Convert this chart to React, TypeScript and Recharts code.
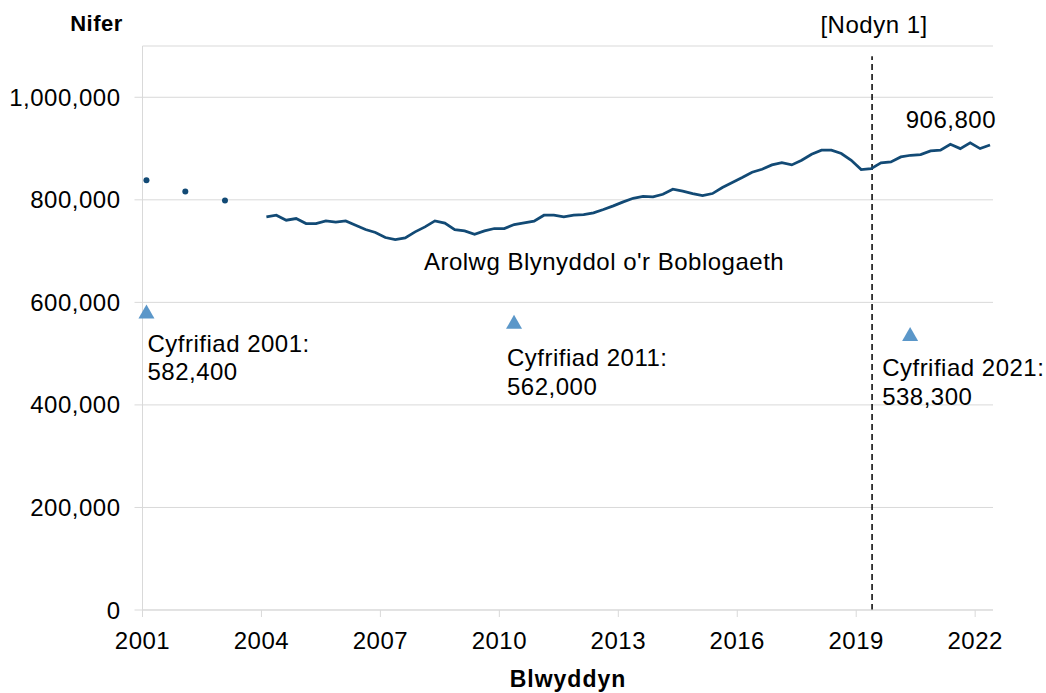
import { ComposedChart, Line, Scatter, XAxis, YAxis, CartesianGrid, ReferenceLine, ReferenceDot } from 'recharts'

const NAVY = '#124a75'
const LIGHT_BLUE = '#5b97c9'
const GRID = '#d9d9d9'
const FONT = "'Liberation Sans', Arial, sans-serif"

// Arolwg Blynyddol o'r Boblogaeth, quarterly rolling estimates from early 2004
const APS_START = 2004.125
const APS_VALUES = [
  766700, 770000, 760200, 763500, 753700, 753700, 758900, 756300, 758900, 750500,
  742000, 736200, 726400, 722500, 725800, 737500, 747200, 758900, 754500, 742000,
  739400, 732900, 739400, 744000, 744000, 751800, 755000, 758300, 770000, 770000,
  766700, 770000, 771300, 774500, 781000, 788200, 796000, 803000, 806500, 805700,
  810900, 820700, 816800, 812200, 808300, 812200, 823900, 833700, 843400, 853800,
  859600, 868100, 872600, 868100, 877200, 888900, 896700, 896700, 890200, 877200,
  859000, 860900, 872000, 874000, 883700, 886900, 888200, 895400, 896700, 908400,
  899900, 911000, 899900, 906800,
]

// earlier annual estimates, drawn as dots
const ANNUAL_YEARS = [2001.1, 2002.08, 2003.08]
const ANNUAL_VALUES = [838200, 816200, 798600]

// census counts
const CENSUS_YEARS = [2001.1, 2010.37, 2020.36]
const CENSUS_VALUES = [582400, 562000, 538300]
const CENSUS_NAMES = ['Cyfrifiad 2001:', 'Cyfrifiad 2011:', 'Cyfrifiad 2021:']

const X_TICKS = [2001, 2004, 2007, 2010, 2013, 2016, 2019, 2022]
const Y_TICKS = [0, 200000, 400000, 600000, 800000, 1000000]
const NOTE_YEAR = 2019.4

// label nudges (px) for the census notes: [dx, dy of first line]
const CENSUS_LABEL_OFFSET = [
  [1, 40.5],
  [-7, 44.3],
  [-28, 42.2],
]

const fmt = (v: number) => v.toLocaleString('en-GB')

const apsData = APS_VALUES.map((v, i) => ({ x: APS_START + i * 0.25, y: v }))
const annualData = ANNUAL_YEARS.map((x, i) => ({ x, y: ANNUAL_VALUES[i] }))
const censusData = CENSUS_YEARS.map((x, i) => ({ x, y: CENSUS_VALUES[i], name: CENSUS_NAMES[i] }))

const XTick = ({ x, y, payload }: any) => (
  <text x={x} y={y + 30} textAnchor="middle" fontSize={24} fill="#000">
    {payload.value}
  </text>
)

const AnnualDot = (p: any) => <circle cx={p.cx} cy={p.cy} r={3} fill={NAVY} />

const CensusMark = (p: any) => {
  const idx = CENSUS_NAMES.indexOf(p.payload?.name)
  const [dx, dy] = CENSUS_LABEL_OFFSET[idx] || [0, 40]
  const { cx, cy } = p
  return (
    <g>
      <polygon points={`${cx},${cy - 7} ${cx - 8},${cy + 7} ${cx + 8},${cy + 7}`} fill={LIGHT_BLUE} />
      <text x={cx + dx} y={cy + dy} fontSize={24} fill="#000">
        {p.payload?.name}
      </text>
      <text x={cx + dx} y={cy + dy + 28.5} fontSize={24} fill="#000">
        {fmt(p.payload?.y)}
      </text>
    </g>
  )
}

const LastValueLabel = (p: any) => {
  if (p.index !== APS_VALUES.length - 1) return <g key={`d-${p.index}`} />
  return (
    <text key="last" x={p.cx + 6} y={p.cy - 17} textAnchor="end" fontSize={24} fill="#000">
      {fmt(APS_VALUES[APS_VALUES.length - 1])}
    </text>
  )
}

export default function App() {
  return (
    <div
      style={{
        position: 'absolute',
        left: 0,
        top: 0,
        width: 1046,
        height: 693,
        background: '#fff',
        fontFamily: FONT,
        letterSpacing: '0.5px',
      }}
    >
      <ComposedChart width={1046} height={693} margin={{ top: 46, right: 53, bottom: 0, left: 0 }}>
        <CartesianGrid vertical={false} stroke={GRID} />
        <XAxis
          type="number"
          dataKey="x"
          domain={[2001, 2022.45]}
          ticks={X_TICKS}
          height={83}
          tickSize={7}
          tick={<XTick />}
          axisLine={{ stroke: GRID }}
          tickLine={{ stroke: GRID }}
          label={() => (
            <text x={568} y={687} textAnchor="middle" fontSize={23} fontWeight="bold" letterSpacing="1px" fill="#000">
              Blwyddyn
            </text>
          )}
        />
        <YAxis
          type="number"
          dataKey="y"
          domain={[0, 1100000]}
          ticks={Y_TICKS}
          width={142.5}
          tickSize={8}
          tickMargin={14}
          tickFormatter={fmt}
          tick={{ fill: '#000', fontSize: 24 }}
          axisLine={{ stroke: GRID }}
          tickLine={{ stroke: GRID }}
          label={() => (
            <text x={96.5} y={31} textAnchor="middle" fontSize={22} fontWeight="bold" fill="#000">
              Nifer
            </text>
          )}
        />
        <ReferenceLine
          segment={[
            { x: NOTE_YEAR, y: 0 },
            { x: NOTE_YEAR, y: 1080000 },
          ]}
          stroke="#000"
          strokeWidth={1.5}
          strokeDasharray="6 4"
          label={(p: any) => (
            <text x={(p.viewBox?.x ?? 872) + 2} y={32.5} textAnchor="middle" fontSize={24} fill="#000">
              [Nodyn 1]
            </text>
          )}
        />
        <ReferenceDot
          x={2012.64}
          y={678000}
          r={0}
          fill="none"
          stroke="none"
          label={(p: any) => (
            <text x={p.viewBox?.x ?? 604} y={(p.viewBox?.y ?? 262) + 8} textAnchor="middle" fontSize={24} fill="#000">
              Arolwg Blynyddol o'r Boblogaeth
            </text>
          )}
        />
        <Line
          data={apsData}
          dataKey="y"
          type="linear"
          stroke={NAVY}
          strokeWidth={2.75}
          dot={LastValueLabel}
          activeDot={false}
          isAnimationActive={false}
        />
        <Scatter data={annualData} dataKey="y" shape={AnnualDot} isAnimationActive={false} />
        <Scatter data={censusData} dataKey="y" shape={CensusMark} isAnimationActive={false} />
      </ComposedChart>
    </div>
  )
}
